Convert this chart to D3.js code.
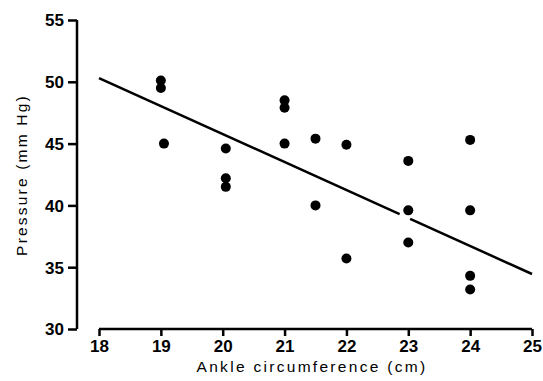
<!DOCTYPE html>
<html>
<head>
<meta charset="utf-8">
<script src="https://cdn.jsdelivr.net/npm/d3@7"></script>
<style>
  body { margin: 0; background: #fff; }
  text { font-family: "Liberation Sans", Arial, sans-serif; fill: #000; }
</style>
</head>
<body>
<svg id="chart" width="543" height="381"></svg>
<script>
// ankle circumference (cm) and pressure (mm Hg)
const ankle    = [19, 19, 19.05, 20.05, 20.05, 20.05, 21, 21, 21, 21.5, 21.5, 22, 22, 23, 23, 23, 24, 24, 24, 24];
const pressure = [50.1, 49.5, 45.0, 44.6, 42.2, 41.5, 48.5, 47.9, 45.0, 45.4, 40.0, 44.9, 35.7, 43.6, 39.6, 37.0, 45.3, 39.6, 34.3, 33.2];
const xTicks = [18, 19, 20, 21, 22, 23, 24, 25];
const yTicks = [30, 35, 40, 45, 50, 55];
// fitted line end points
const fitX = [18, 25];
const fitY = [50.3, 34.45];

const svg = d3.select("#chart");

const x = d3.scaleLinear().domain([18, 25]).range([99, 532]);
const y = d3.scaleLinear().domain([30, 55]).range([329, 20]);

// x axis
const xAxis = svg.append("g")
  .attr("transform", "translate(0,329)")
  .call(d3.axisBottom(x).tickValues(xTicks).tickSize(7).tickPadding(4).tickFormat(d3.format("d")));
xAxis.select(".domain").attr("d", "M99,0H532").attr("stroke", "#000").attr("stroke-width", 2.5);
xAxis.selectAll(".tick line").attr("stroke", "#000").attr("stroke-width", 2.5);
xAxis.selectAll(".tick text")
  .style("font-size", "17px").style("font-weight", "bold").attr("fill", "#000");

// y axis
const yAxis = svg.append("g")
  .attr("transform", "translate(77,0)")
  .call(d3.axisLeft(y).tickValues(yTicks).tickSize(9).tickPadding(4).tickFormat(d3.format("d")));
yAxis.select(".domain").attr("d", "M0,20V329").attr("stroke", "#000").attr("stroke-width", 2.5);
yAxis.selectAll(".tick line").attr("stroke", "#000").attr("stroke-width", 2.5);
yAxis.selectAll(".tick text")
  .style("font-size", "17px").style("font-weight", "bold").attr("fill", "#000")
  .attr("dy", "0.35em");

// axis titles
svg.append("text")
  .attr("x", 312).attr("y", 372)
  .attr("text-anchor", "middle")
  .style("font-size", "15.5px").style("letter-spacing", "2.3px")
  .text("Ankle circumference (cm)");

svg.append("text")
  .attr("transform", "translate(27,175) rotate(-90)")
  .attr("text-anchor", "middle")
  .style("font-size", "15.5px").style("letter-spacing", "2.2px")
  .text("Pressure (mm Hg)");

// regression line, broken around the point at 23 cm
const fit = d3.scaleLinear().domain(fitX).range(fitY);
const segments = [[18, 22.86], [23.03, 25]];
svg.selectAll(".fit")
  .data(segments)
  .join("line")
  .attr("class", "fit")
  .attr("x1", d => x(d[0])).attr("y1", d => y(fit(d[0])))
  .attr("x2", d => x(d[1])).attr("y2", d => y(fit(d[1])))
  .attr("stroke", "#000")
  .attr("stroke-width", 2.5);

// points
svg.selectAll(".dot")
  .data(d3.zip(ankle, pressure))
  .join("circle")
  .attr("class", "dot")
  .attr("cx", d => x(d[0]))
  .attr("cy", d => y(d[1]))
  .attr("r", 5)
  .attr("fill", "#000");
</script>
</body>
</html>
